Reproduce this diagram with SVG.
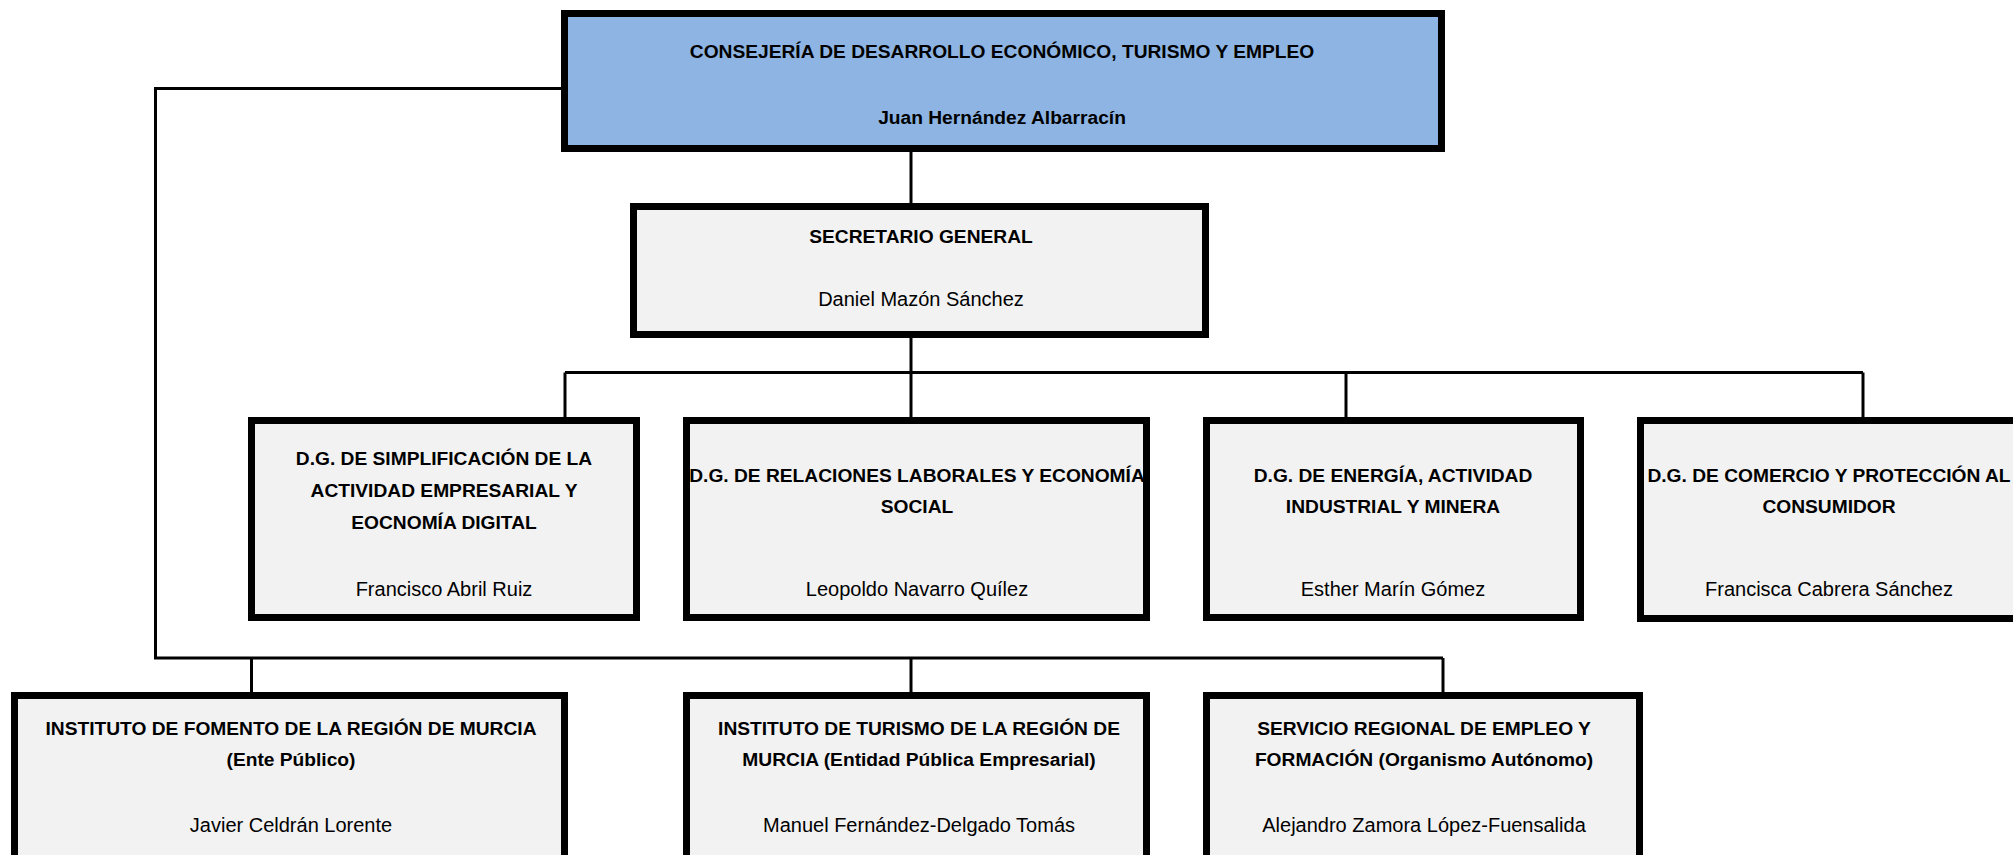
<svg xmlns="http://www.w3.org/2000/svg" width="2013" height="855" viewBox="0 0 2013 855">
<style>
.box{fill:#F2F2F2;stroke:#000;stroke-width:7}
.top{fill:#8DB4E2;stroke:#000;stroke-width:7}
.conn{fill:none;stroke:#000;stroke-width:3}
text{font-family:"Liberation Sans",Arial,sans-serif;font-size:20px;fill:#000;text-anchor:middle}
.b{font-weight:bold;font-size:19.2px}
</style>
<rect width="2013" height="855" fill="#fff"/>
<g id="connectors">
<polyline class="conn" points="561,88.5 155.5,88.5 155.5,658 1443,658"/>
<line class="conn" x1="251.5" y1="658" x2="251.5" y2="692"/>
<line class="conn" x1="911" y1="658" x2="911" y2="692"/>
<line class="conn" x1="1443" y1="658" x2="1443" y2="692"/>
<line class="conn" x1="911" y1="152" x2="911" y2="203"/>
<line class="conn" x1="911" y1="338" x2="911" y2="417"/>
<line class="conn" x1="565" y1="372.5" x2="1863" y2="372.5"/>
<line class="conn" x1="565" y1="372.5" x2="565" y2="417"/>
<line class="conn" x1="1346" y1="372.5" x2="1346" y2="417"/>
<line class="conn" x1="1863" y1="372.5" x2="1863" y2="417"/>
</g>
<g id="consejeria">
<rect class="top" x="564.5" y="13.5" width="877" height="135"/>
<text class="b" x="1002" y="58">CONSEJERÍA DE DESARROLLO ECONÓMICO, TURISMO Y EMPLEO</text>
<text class="b" x="1002" y="124">Juan Hernández Albarracín</text>
</g>
<g id="secretario">
<rect class="box" x="633.5" y="206.5" width="572" height="128"/>
<text class="b" x="921" y="243">SECRETARIO GENERAL</text>
<text x="921" y="306">Daniel Mazón Sánchez</text>
</g>
<g id="dg1">
<rect class="box" x="251.5" y="420.5" width="385" height="197"/>
<text class="b" x="444" y="465">D.G. DE SIMPLIFICACIÓN DE LA</text>
<text class="b" x="444" y="497">ACTIVIDAD EMPRESARIAL Y</text>
<text class="b" x="444" y="529">EOCNOMÍA DIGITAL</text>
<text x="444" y="596">Francisco Abril Ruiz</text>
</g>
<g id="dg2">
<rect class="box" x="686.5" y="420.5" width="460" height="197"/>
<text class="b" x="917" y="482">D.G. DE RELACIONES LABORALES Y ECONOMÍA</text>
<text class="b" x="917" y="513">SOCIAL</text>
<text x="917" y="596">Leopoldo Navarro Quílez</text>
</g>
<g id="dg3">
<rect class="box" x="1206.5" y="420.5" width="374" height="197"/>
<text class="b" x="1393" y="482">D.G. DE ENERGÍA, ACTIVIDAD</text>
<text class="b" x="1393" y="513">INDUSTRIAL Y MINERA</text>
<text x="1393" y="596">Esther Marín Gómez</text>
</g>
<g id="dg4">
<rect class="box" x="1640.5" y="420.5" width="380" height="198"/>
<text class="b" x="1829" y="482">D.G. DE COMERCIO Y PROTECCIÓN AL</text>
<text class="b" x="1829" y="513">CONSUMIDOR</text>
<text x="1829" y="596">Francisca Cabrera Sánchez</text>
</g>
<g id="info">
<rect class="box" x="14.5" y="695.5" width="550" height="200"/>
<text class="b" x="291" y="735">INSTITUTO DE FOMENTO DE LA REGIÓN DE MURCIA</text>
<text class="b" x="291" y="766">(Ente Público)</text>
<text x="291" y="832">Javier Celdrán Lorente</text>
</g>
<g id="itrem">
<rect class="box" x="686.5" y="695.5" width="460" height="200"/>
<text class="b" x="919" y="735">INSTITUTO DE TURISMO DE LA REGIÓN DE</text>
<text class="b" x="919" y="766">MURCIA (Entidad Pública Empresarial)</text>
<text x="919" y="832">Manuel Fernández-Delgado Tomás</text>
</g>
<g id="sef">
<rect class="box" x="1206.5" y="695.5" width="433" height="200"/>
<text class="b" x="1424" y="735">SERVICIO REGIONAL DE EMPLEO Y</text>
<text class="b" x="1424" y="766">FORMACIÓN (Organismo Autónomo)</text>
<text x="1424" y="832">Alejandro Zamora López-Fuensalida</text>
</g>
</svg>
